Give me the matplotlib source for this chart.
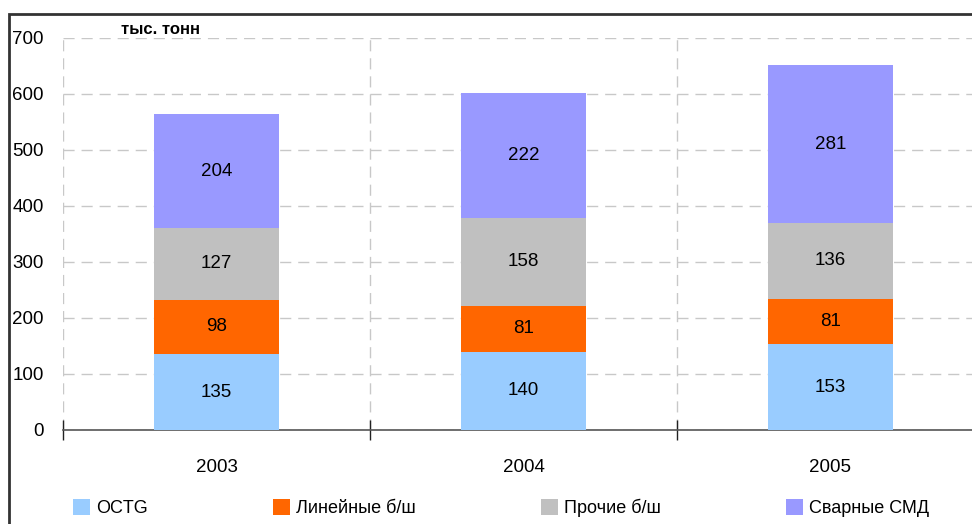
import numpy as np
import matplotlib.pyplot as plt
from matplotlib.patches import Rectangle, Patch

# --- data ---
years = ['2003', '2004', '2005']
series_names = ['OCTG', 'Линейные б/ш', 'Прочие б/ш', 'Сварные СМД']
octg = [135, 140, 153]
linear = [98, 81, 81]
other = [127, 158, 136]
welded = [204, 222, 281]
colors = ['#99CCFF', '#FF6600', '#C0C0C0', '#9999FF']

plt.rcParams['font.family'] = ['Liberation Sans', 'DejaVu Sans']

fig = plt.figure(figsize=(9.72, 5.24), dpi=100)
ax = fig.add_axes([63 / 972, 94 / 524, 921 / 972, 392 / 524])

x = np.arange(len(years))
bottom = np.zeros(len(years))
for vals, col in zip([octg, linear, other, welded], colors):
    ax.bar(x, vals, width=0.405, bottom=bottom, color=col, edgecolor='none', zorder=3)
    for xi, b, v in zip(x, bottom, vals):
        ax.text(xi, b + v / 2, str(v), ha='center', va='center', fontsize=13.5, zorder=4)
    bottom = bottom + np.array(vals)

ax.set_xlim(-0.5, 2.5)
ax.set_ylim(0, 700)
ax.set_yticks(range(0, 701, 100))
ax.tick_params(axis='y', length=0, pad=14, labelsize=13.5)

# category boundaries get ticks + dashed vertical grid
ax.set_xticks([-0.5, 0.5, 1.5, 2.5])
ax.set_xticklabels([])
ax.tick_params(axis='x', direction='inout', length=14, width=1, color='#222222')
for xi, yr in zip(x, years):
    ax.text(xi, -0.095, yr, transform=ax.get_xaxis_transform(), ha='center', va='center', fontsize=13.5)

ax.grid(True, color='#C8C8C8', linestyle=(0, (8, 5)), linewidth=1, zorder=0)
for s in ['top', 'right', 'left']:
    ax.spines[s].set_visible(False)
ax.spines['bottom'].set_color('#555555')
ax.spines['bottom'].set_linewidth(1.2)

fig.text(160 / 972, 1 - 29 / 524, 'тыс. тонн', ha='center', va='center', fontsize=12, fontweight='bold')

# outer frame
fig.patches.append(Rectangle((9 / 972, -0.1), 1.2, 1 - 14 / 524 + 0.1, transform=fig.transFigure,
                             fill=False, edgecolor='#333333', linewidth=2))

handles = [Patch(facecolor=c, edgecolor='none') for c in colors]
fig.legend(handles, series_names, loc='center left', bbox_to_anchor=(73 / 972, 16 / 524),
           ncol=4, frameon=False, fontsize=13, borderpad=0, borderaxespad=0,
           handlelength=0.95, handleheight=0.95, handletextpad=0.35, columnspacing=6.9)

fig.savefig('out.png', dpi=100)
